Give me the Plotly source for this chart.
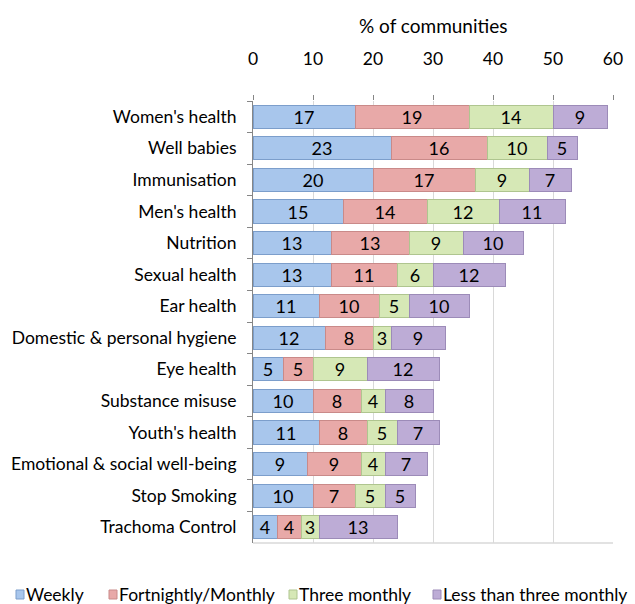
import plotly.graph_objects as go

categories = ["Women's health", "Well babies", "Immunisation", "Men's health", "Nutrition",
              "Sexual health", "Ear health", "Domestic & personal hygiene", "Eye health",
              "Substance misuse", "Youth's health", "Emotional & social well-being",
              "Stop Smoking", "Trachoma Control"]
weekly = [17, 23, 20, 15, 13, 13, 11, 12, 5, 10, 11, 9, 10, 4]
fortnightly = [19, 16, 17, 14, 13, 11, 10, 8, 5, 8, 8, 9, 7, 4]
three_monthly = [14, 10, 9, 12, 9, 6, 5, 3, 9, 4, 5, 4, 5, 3]
less_than = [9, 5, 7, 11, 10, 12, 10, 9, 12, 8, 7, 7, 5, 13]
series_names = ["Weekly", "Fortnightly/Monthly", "Three monthly", "Less than three monthly"]
x_ticks = [0, 10, 20, 30, 40, 50, 60]

fills = ["#A8C6EC", "#E8A9A8", "#D6E8B6", "#BDACD6"]
lines = ["#7C9ECB", "#C98A89", "#AFC58F", "#9C8BB8"]

FONT = "Lato"
W, H = 635, 604
L, R, T, B = 253, 613, 101, 543  # plot area in pixels

fig = go.Figure()
for name, vals, fc, lc in zip(series_names, [weekly, fortnightly, three_monthly, less_than], fills, lines):
    fig.add_trace(go.Bar(
        y=categories, x=vals, name=name, orientation="h",
        marker=dict(color=fc, line=dict(color=lc, width=1)),
        text=[str(v) for v in vals], textposition="inside", insidetextanchor="middle",
        textangle=0, constraintext="none",
        textfont=dict(family=FONT, size=18, color="#000000"),
        width=0.73, showlegend=False,
    ))

fig.update_layout(
    width=W, height=H,
    barmode="stack",
    plot_bgcolor="white", paper_bgcolor="white",
    margin=dict(l=L, r=W - R, t=T, b=H - B, autoexpand=False),
    font=dict(family=FONT, size=16, color="#000000"),
    showlegend=False,
)
fig.update_xaxes(
    side="top", range=[0, 60], tickvals=x_ticks, ticktext=[str(t) for t in x_ticks],
    showgrid=True, gridcolor="#D9D9D9", gridwidth=1,
    ticks="outside", ticklen=5, tickcolor="#868686",
    ticklabelstandoff=23, tickfont=dict(family=FONT, size=17.5),
    showline=False, zeroline=False,
)
fig.update_yaxes(
    categoryorder="array", categoryarray=categories, autorange="reversed",
    showline=True, linecolor="#868686", linewidth=1,
    ticks="outside", ticklen=5, tickcolor="#868686", tickson="boundaries",
    ticklabelstandoff=12, tickfont=dict(family=FONT, size=17.5), showgrid=False,
)
fig.add_shape(type="line", xref="paper", yref="paper", x0=0, x1=1, y0=0, y1=0,
              line=dict(color="#D9D9D9", width=1.5))


def px_x(p):
    return (p - L) / (R - L)


def px_y(p):
    return (B - p) / (B - T)


fig.add_annotation(text="% of communities", xref="paper", yref="paper", x=0.5, y=px_y(26),
                   xanchor="center", yanchor="middle", showarrow=False,
                   font=dict(family=FONT, size=19))

# manual legend (Excel-style small swatches)
legend_sq = [16, 109, 289, 433]
for name, fc, lc, sx in zip(series_names, fills, lines, legend_sq):
    fig.add_shape(type="rect", xref="paper", yref="paper",
                  x0=px_x(sx), x1=px_x(sx + 8), y0=px_y(599), y1=px_y(590),
                  fillcolor=fc, line=dict(color=lc, width=1))
    fig.add_annotation(text=name, xref="paper", yref="paper", x=px_x(sx + 8), y=px_y(594),
                       xanchor="left", yanchor="middle", showarrow=False,
                       font=dict(family=FONT, size=17.5))

fig.write_html("out.html", config={"displayModeBar": False},
               post_script="document.body.style.margin='0px';")
